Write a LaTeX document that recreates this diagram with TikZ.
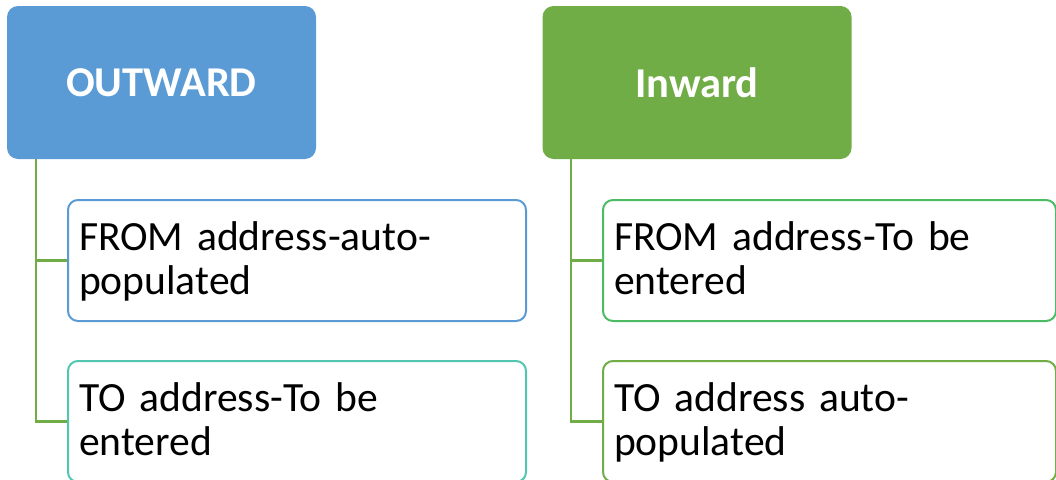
\documentclass[tikz,border=0pt]{standalone}
\usepackage{fontspec}
\setmainfont{Carlito}
\usetikzlibrary{backgrounds}

\definecolor{hdrblue}{HTML}{5B9BD5}
\definecolor{hdrgreen}{HTML}{70AD47}
\definecolor{itemteal}{HTML}{52C6B0}
\definecolor{itemgreen}{HTML}{4DBB64}

% fixed-height strut so every two-line item sits at the same place
\newcommand{\itemstrut}{\rule[-10.5pt]{0pt}{44pt}}

\begin{document}
\begin{tikzpicture}[x=1pt,y=-1pt,
  header/.style={rounded corners=11pt, minimum width=309pt, minimum height=153pt,
    inner sep=0pt, text=white, font=\fontsize{42.5}{44}\selectfont\bfseries},
  item/.style={draw, line width=2pt, rounded corners=10pt, fill=white,
    minimum height=121pt, text width=#1, align=left, inner xsep=11pt,
    inner ysep=0pt, font=\fontsize{41.6}{44}\selectfont, anchor=west},
  link/.style={draw=hdrgreen, line width=2.2pt}
]
\useasboundingbox (0,0) rectangle (1056,479);
\clip (0,0) rectangle (1056,479);

% group headers
\node[header, fill=hdrblue]  (outward) at (161.5,82.5) {OUTWARD};
\node[header, fill=hdrgreen] (inward)  at (697,82.5)   {Inward};

% stems below the headers
\coordinate (ostem) at (36,159);
\coordinate (istem) at (571,159);

% items
\node[item=436pt, draw=hdrblue]   (ofrom) at (67,260.5)  {FROM address-auto-\itemstrut\\populated\itemstrut};
\node[item=436pt, draw=itemteal]  (oto)   at (67,421.5)  {TO address-To be\itemstrut\\entered\itemstrut};
\node[item=431pt, draw=itemgreen] (ifrom) at (602,260.5) {FROM address-To be\itemstrut\\entered\itemstrut};
\node[item=431pt, draw=hdrgreen]  (ito)   at (602,421.5) {TO address auto-\itemstrut\\populated\itemstrut};

% connector lines behind the boxes
\begin{scope}[on background layer]
\draw[link] (ostem) |- (ofrom.west);
\draw[link] (ostem) |- (oto.west);
\draw[link] (istem) |- (ifrom.west);
\draw[link] (istem) |- (ito.west);
\end{scope}
\end{tikzpicture}
\end{document}
